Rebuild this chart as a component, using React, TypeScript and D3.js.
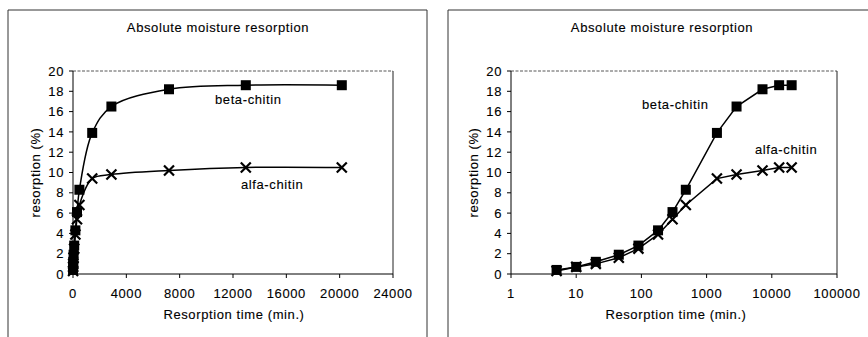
import * as d3 from "d3";

// resorption time (min.)
const times = [5, 10, 20, 45, 90, 180, 300, 480, 1440, 2880, 7200, 12960, 20160];
// resorption (%)
const betaChitin = [0.4, 0.7, 1.2, 1.9, 2.8, 4.3, 6.1, 8.3, 13.9, 16.5, 18.2, 18.6, 18.6];
const alfaChitin = [0.3, 0.7, 1.0, 1.6, 2.5, 3.9, 5.4, 6.8, 9.4, 9.8, 10.2, 10.5, 10.5];

const yTicks = [0, 2, 4, 6, 8, 10, 12, 14, 16, 18, 20];
const linTicks = [0, 4000, 8000, 12000, 16000, 20000, 24000];
const logTicks = [1, 10, 100, 1000, 10000, 100000];

const title = "Absolute moisture resorption";
const xTitle = "Resorption time (min.)";
const yTitle = "resorption (%)";

const font = "'Liberation Sans', Arial, sans-serif";
const textStyle = {
  fontFamily: font,
  fontSize: 13,
  letterSpacing: "0.6px",
  fill: "#000",
  stroke: "#000",
  strokeWidth: 0.12,
};

type PanelProps = {
  log: boolean;
  left: number;
  right: number;
  titleX: number;
  xTitleX: number;
  yTitleX: number;
  yLabelX: number;
  betaPos: [number, number];
  alfaPos: [number, number];
};

const top = 71;
const bottom = 274;

function Panel(p: PanelProps) {
  const x: any = p.log
    ? d3.scaleLog().domain([1, 100000]).range([p.left, p.right])
    : d3.scaleLinear().domain([0, 24000]).range([p.left, p.right]);
  const y = d3.scaleLinear().domain([0, 20]).range([bottom, top]);
  const xTicks = p.log ? logTicks : linTicks;

  const line = d3
    .line<number>()
    .x((_, i) => x(times[i]))
    .y((d) => y(d))
    .curve(p.log ? d3.curveLinear : d3.curveCatmullRom.alpha(0.5));

  const m = 5; // marker half size

  return (
    <g>
      {/* plot area edges */}
      <line x1={p.left} x2={p.right} y1={top} y2={top} stroke="#444" strokeWidth={0.9} strokeDasharray="3,1.5" />
      <line x1={p.right} x2={p.right} y1={top} y2={bottom} stroke="#222" strokeWidth={1} />
      <line x1={p.left} x2={p.left} y1={top} y2={bottom} stroke="#000" strokeWidth={1} />
      <line x1={p.left} x2={p.right} y1={bottom} y2={bottom} stroke="#000" strokeWidth={1} />

      {yTicks.map((t) => (
        <g key={"y" + t}>
          <line x1={p.left - 4} x2={p.left} y1={y(t)} y2={y(t)} stroke="#000" />
          <text x={p.yLabelX} y={y(t)} dy="0.36em" textAnchor="end" style={textStyle}>
            {t}
          </text>
        </g>
      ))}
      {xTicks.map((t) => (
        <g key={"x" + t}>
          <line x1={x(t)} x2={x(t)} y1={bottom} y2={bottom + 4} stroke="#000" />
          <text x={x(t)} y={298} textAnchor="middle" style={textStyle}>
            {t}
          </text>
        </g>
      ))}

      <path d={line(alfaChitin) || ""} fill="none" stroke="#000" strokeWidth={1.5} />
      <path d={line(betaChitin) || ""} fill="none" stroke="#000" strokeWidth={1.5} />

      {alfaChitin.map((v, i) => {
        const cx = x(times[i]);
        const cy = y(v);
        return (
          <path
            key={"a" + i}
            d={`M${cx - m},${cy - m}L${cx + m},${cy + m}M${cx - m},${cy + m}L${cx + m},${cy - m}`}
            stroke="#000"
            strokeWidth={2.2}
          />
        );
      })}
      {betaChitin.map((v, i) => (
        <rect key={"b" + i} x={x(times[i]) - m} y={y(v) - m} width={2 * m} height={2 * m} fill="#000" />
      ))}

      <text x={p.betaPos[0]} y={p.betaPos[1]} style={textStyle}>beta-chitin</text>
      <text x={p.alfaPos[0]} y={p.alfaPos[1]} style={textStyle}>alfa-chitin</text>

      <text x={p.titleX} y={32} textAnchor="middle" style={textStyle}>{title}</text>
      <text x={p.xTitleX} y={319} textAnchor="middle" style={textStyle}>{xTitle}</text>
      <text
        transform={`translate(${p.yTitleX},${(top + bottom) / 2}) rotate(-90)`}
        dy="0.36em"
        textAnchor="middle"
        style={textStyle}
      >
        {yTitle}
      </text>
    </g>
  );
}

export default function App() {
  return (
    <svg
      width={868}
      height={337}
      style={{ position: "absolute", left: 0, top: 0, background: "#fff" }}
    >
      <rect width={868} height={337} fill="#fff" />
      {/* panel frames */}
      <path d="M8,337V10H427V337" fill="none" stroke="#333" strokeWidth={1} />
      <path d="M448,337V10H868" fill="none" stroke="#333" strokeWidth={1} />

      <Panel
        log={false}
        left={73}
        right={393}
        titleX={218}
        xTitleX={234}
        yTitleX={35}
        yLabelX={64}
        betaPos={[215, 104]}
        alfaPos={[241, 189]}
      />
      <Panel
        log={true}
        left={511}
        right={837}
        titleX={662}
        xTitleX={676}
        yTitleX={473}
        yLabelX={502}
        betaPos={[642, 109]}
        alfaPos={[755, 154]}
      />
    </svg>
  );
}
